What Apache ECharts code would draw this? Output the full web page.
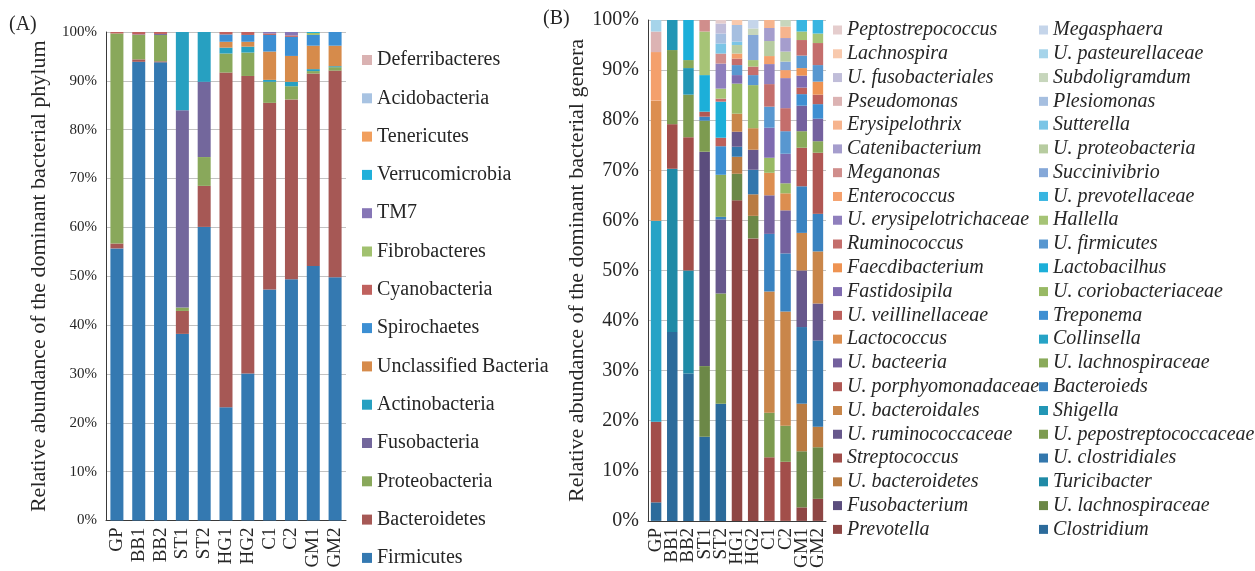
<!DOCTYPE html>
<html>
<head>
<meta charset="utf-8">
<script src="https://cdn.jsdelivr.net/npm/echarts@6/dist/echarts.min.js"></script>
<style>
  html, body { margin: 0; padding: 0; background: #ffffff; }
  #chart { width: 1255px; height: 571px; }
</style>
</head>
<body>
<div id="chart"></div>
<script>
// Sample groups shared by both panels
const samples = ['GP', 'BB1', 'BB2', 'ST1', 'ST2', 'HG1', 'HG2', 'C1', 'C2', 'GM1', 'GM2'];

// ---- Panel A: relative abundance (%) of bacterial phyla, stacked bottom to top ----
const phyla = ['Firmicutes', 'Bacteroidetes', 'Proteobacteria', 'Fusobacteria', 'Actinobacteria',
  'Unclassified Bacteria', 'Spirochaetes', 'Cyanobacteria', 'Fibrobacteres', 'TM7',
  'Verrucomicrobia', 'Tenericutes', 'Acidobacteria', 'Deferribacteres'];
const firmicutes      = [55.7, 93.9, 93.8, 38.2, 60.1, 23.2, 30.1, 47.3, 49.4, 52.1, 49.8];
const bacteroidetes   = [1.0, 0.5, 0.2, 4.7, 8.4, 68.5, 60.9, 38.2, 36.8, 39.4, 42.3];
const proteobacteria  = [43.0, 5.0, 5.4, 0.7, 5.9, 3.9, 4.8, 4.3, 2.7, 0.5, 0.7];
const fusobacteria    = [0, 0.1, 0.2, 40.4, 15.4, 0, 0, 0, 0, 0, 0];
const actinobacteria  = [0, 0, 0, 16.0, 10.2, 1.2, 1.2, 0.4, 0.9, 0.4, 0.2];
const unclassified    = [0, 0, 0, 0, 0, 1.2, 1.0, 5.8, 5.3, 4.8, 4.2];
const spirochaetes    = [0, 0, 0, 0, 0, 1.5, 1.4, 3.4, 3.9, 2.2, 2.8];
const cyanobacteria   = [0.3, 0.5, 0.4, 0, 0, 0.5, 0.6, 0.3, 0.3, 0, 0];
const fibrobacteres   = [0, 0, 0, 0, 0, 0, 0, 0, 0, 0.4, 0];
const tm7             = [0, 0, 0, 0, 0, 0, 0, 0.3, 0.7, 0, 0];
const verrucomicrobia = [0, 0, 0, 0, 0, 0, 0, 0, 0, 0.2, 0];
const tenericutes     = [0, 0, 0, 0, 0, 0, 0, 0, 0, 0, 0];
const acidobacteria   = [0, 0, 0, 0, 0, 0, 0, 0, 0, 0, 0];
const deferribacteres = [0, 0, 0, 0, 0, 0, 0, 0, 0, 0, 0];
const phylumValues = [firmicutes, bacteroidetes, proteobacteria, fusobacteria, actinobacteria,
  unclassified, spirochaetes, cyanobacteria, fibrobacteres, tm7, verrucomicrobia,
  tenericutes, acidobacteria, deferribacteres];

// ---- Panel B: relative abundance (%) of genera, stacked bottom to top ----
// the second "U. lachnospiraceae" entry carries a "#2" key suffix that the legend hides
const genera = ['Clostridium', 'Prevotella', 'U. lachnospiraceae', 'Fusobacterium', 'Turicibacter',
  'U. bacteroidetes', 'U. clostridiales', 'Streptococcus', 'U. pepostreptococcaceae',
  'U. ruminococcaceae', 'Shigella', 'U. bacteroidales', 'Bacteroieds', 'U. porphyomonadaceae',
  'U. lachnospiraceae #2', 'U. bacteeria', 'Collinsella', 'Lactococcus', 'Treponema',
  'U. veillinellaceae', 'U. coriobacteriaceae', 'Fastidosipila', 'Lactobacilhus', 'Faecdibacterium',
  'U. firmicutes', 'Ruminococcus', 'Hallella', 'U. erysipelotrichaceae', 'U. prevotellaceae',
  'Enterococcus', 'Succinivibrio', 'Meganonas', 'U. proteobacteria', 'Catenibacterium',
  'Sutterella', 'Erysipelothrix', 'Plesiomonas', 'Pseudomonas', 'Subdoligramdum',
  'U. fusobacteriales', 'U. pasteurellaceae', 'Lachnospira', 'Megasphaera', 'Peptostrepococcus'];

const generaGP = [['Clostridium', 3.7], ['Streptococcus', 16.1], ['Collinsella', 40.1],
  ['Lactococcus', 24.0], ['Enterococcus', 9.7], ['Pseudomonas', 4.1], ['U. pasteurellaceae', 2.3]];
const generaBB1 = [['Clostridium', 37.7], ['Turicibacter', 32.6], ['Streptococcus', 8.9],
  ['U. pepostreptococcaceae', 14.8], ['Shigella', 6.0]];
const generaBB2 = [['Clostridium', 29.4], ['Turicibacter', 20.6], ['Streptococcus', 26.6],
  ['U. pepostreptococcaceae', 8.5], ['Shigella', 5.3], ['U. lachnospiraceae #2', 1.6],
  ['Lactobacilhus', 8.0]];
const generaST1 = [['Clostridium', 16.8], ['U. lachnospiraceae', 14.1], ['Fusobacterium', 42.8],
  ['U. pepostreptococcaceae', 6.2], ['Bacteroieds', 0.8], ['U. porphyomonadaceae', 1.0],
  ['Lactobacilhus', 7.3], ['Hallella', 8.7], ['Meganonas', 2.3]];
const generaST2 = [['Clostridium', 23.4], ['U. pepostreptococcaceae', 22.0],
  ['U. ruminococcaceae', 14.8], ['Bacteroieds', 0.5], ['U. lachnospiraceae #2', 8.4],
  ['Treponema', 5.7], ['U. veillinellaceae', 1.7], ['Lactobacilhus', 7.2], ['Ruminococcus', 0.6],
  ['Hallella', 2.0], ['U. erysipelotrichaceae', 5.0], ['Meganonas', 2.0], ['Sutterella', 2.0],
  ['Plesiomonas', 2.0], ['U. fusobacteriales', 2.0], ['Peptostrepococcus', 0.7]];
const generaHG1 = [['Prevotella', 64.0], ['U. lachnospiraceae', 5.3], ['U. bacteroidetes', 3.4],
  ['U. clostridiales', 2.0], ['U. ruminococcaceae', 3.0], ['U. bacteroidales', 3.6],
  ['U. coriobacteriaceae', 6.0], ['Fastidosipila', 1.7], ['U. firmicutes', 2.0],
  ['Ruminococcus', 1.3], ['Enterococcus', 1.0], ['U. proteobacteria', 1.7], ['Sutterella', 0.7],
  ['Plesiomonas', 3.3], ['Lachnospira', 1.0]];
const generaHG2 = [['Prevotella', 56.4], ['U. lachnospiraceae', 4.5], ['U. bacteroidetes', 4.3],
  ['U. clostridiales', 4.9], ['U. ruminococcaceae', 4.0], ['U. bacteroidales', 4.3],
  ['U. coriobacteriaceae', 8.6], ['U. firmicutes', 2.0], ['Ruminococcus', 1.7], ['Hallella', 1.3],
  ['Succinivibrio', 5.0], ['Subdoligramdum', 1.3], ['Megasphaera', 1.7]];
const generaC1 = [['Streptococcus', 12.7], ['U. pepostreptococcaceae', 8.9],
  ['U. bacteroidales', 24.2], ['Bacteroieds', 11.5], ['U. bacteeria', 7.7], ['Lactococcus', 4.5],
  ['U. coriobacteriaceae', 3.0], ['Fastidosipila', 6.0], ['U. firmicutes', 4.2],
  ['Ruminococcus', 4.5], ['U. erysipelotrichaceae', 4.0], ['Enterococcus', 1.6],
  ['U. proteobacteria', 3.0], ['Catenibacterium', 2.6], ['Erysipelothrix', 1.6]];
const generaC2 = [['Streptococcus', 11.8], ['U. pepostreptococcaceae', 7.2],
  ['U. bacteroidales', 22.8], ['Bacteroieds', 11.6], ['U. bacteeria', 8.6], ['Lactococcus', 3.4],
  ['U. coriobacteriaceae', 2.0], ['Fastidosipila', 5.9], ['U. firmicutes', 4.5],
  ['Ruminococcus', 4.6], ['U. erysipelotrichaceae', 6.0], ['Enterococcus', 1.6],
  ['Succinivibrio', 1.7], ['U. proteobacteria', 2.0], ['Catenibacterium', 2.7],
  ['Erysipelothrix', 2.3], ['Subdoligramdum', 1.3]];
const generaGM1 = [['Prevotella', 2.7], ['U. lachnospiraceae', 11.2], ['U. bacteroidetes', 9.5],
  ['U. clostridiales', 15.3], ['U. ruminococcaceae', 11.3], ['U. bacteroidales', 7.5],
  ['Bacteroieds', 9.3], ['U. porphyomonadaceae', 7.7], ['U. lachnospiraceae #2', 3.3],
  ['U. bacteeria', 5.1], ['Treponema', 2.3], ['U. veillinellaceae', 1.3], ['Fastidosipila', 2.4],
  ['Faecdibacterium', 1.5], ['U. firmicutes', 2.5], ['Ruminococcus', 3.1], ['Hallella', 1.7],
  ['U. prevotellaceae', 2.3]];
const generaGM2 = [['Prevotella', 4.4], ['U. lachnospiraceae', 10.3], ['U. bacteroidetes', 4.1],
  ['U. clostridiales', 17.2], ['U. ruminococcaceae', 7.4], ['U. bacteroidales', 10.4],
  ['Bacteroieds', 7.5], ['U. porphyomonadaceae', 12.2], ['U. lachnospiraceae #2', 2.3],
  ['U. bacteeria', 4.5], ['Treponema', 2.9], ['U. veillinellaceae', 1.9], ['Faecdibacterium', 2.6],
  ['U. firmicutes', 3.3], ['Ruminococcus', 4.4], ['Hallella', 1.9], ['U. prevotellaceae', 2.7]];
const generaBySample = [generaGP, generaBB1, generaBB2, generaST1, generaST2, generaHG1,
  generaHG2, generaC1, generaC2, generaGM1, generaGM2];

// ---- Colours ----
const phylumColors = ['#3479b1', '#a65855', '#89a85b', '#73679c', '#27a0c1', '#d68b4b',
  '#3c8fd3', '#c0615e', '#a1c16f', '#8676b6', '#20b0da', '#f19f5d', '#a8c3e2', '#dab2b2'];
const genusColors = [
  '#2c6b9b', '#8e4644', '#6c8847', '#5b4d7d', '#1f8aa6', '#b97b42',
  '#3377ad', '#a24e4a', '#7d9b50', '#67588c', '#2296b5', '#c9864a',
  '#3a83c0', '#b05753', '#8aaa5a', '#74619e', '#26a3c6', '#dc8e50',
  '#3e8fd2', '#bd605c', '#98b964', '#7f6bb0', '#1cafd9', '#ee9352',
  '#5897d0', '#c46e6c', '#a6c476', '#8f7fbd', '#38b5e1', '#f4a06c',
  '#85a8d8', '#d08e8c', '#b7cca0', '#a59dcd', '#7bc5e6', '#f6b48e',
  '#a6bfe0', '#dcb3b3', '#c7d6bc', '#c0bdd9', '#a6d4ea', '#f8c9ad',
  '#c5d5ea', '#e5cdcd'];

const serif = "'Liberation Serif', 'Times New Roman', serif";
const textColor = '#262626';
const gridColor = '#c2c2c2';
const axisColor = '#3a3a3a';

function displayName(name) { return name.replace(/ #\d+$/, ''); }

const phylumSeries = phyla.map((name, i) => ({
  name: name,
  type: 'bar',
  stack: 'phylum',
  xAxisIndex: 0,
  yAxisIndex: 0,
  barWidth: 13,
  data: phylumValues[i],
  itemStyle: { color: phylumColors[i] }
}));

const genusSeries = genera.map((name, gi) => ({
  name: name,
  type: 'bar',
  stack: 'genus',
  xAxisIndex: 1,
  yAxisIndex: 1,
  barWidth: 10.5,
  data: generaBySample.map(list => {
    const hit = list.find(entry => entry[0] === name);
    return hit ? hit[1] : 0;
  }),
  itemStyle: { color: genusColors[gi] }
}));

// legend columns of panel B, top row first (left: even-numbered genera, right: odd-numbered)
const leftColumn = [];
const rightColumn = [];
for (let i = genera.length - 1; i >= 1; i -= 2) {
  leftColumn.push(genera[i]);
  rightColumn.push(genera[i - 1]);
}

function categoryAxis(gridIndex) {
  return {
    gridIndex: gridIndex,
    type: 'category',
    data: samples,
    axisTick: { show: false },
    axisLine: { lineStyle: { color: axisColor, width: 1 } },
    axisLabel: { rotate: 90, interval: 0, margin: 7, fontFamily: serif, fontSize: 19, color: textColor }
  };
}

function percentAxis(gridIndex, title, labelSize) {
  return {
    gridIndex: gridIndex,
    type: 'value',
    min: 0,
    max: 100,
    interval: 10,
    axisLine: { show: true, lineStyle: { color: axisColor, width: 1 } },
    axisTick: { show: false },
    splitLine: { lineStyle: { color: gridColor, width: 1 } },
    axisLabel: { formatter: '{value}%', margin: 9, fontFamily: serif, fontSize: labelSize, color: textColor },
    name: title,
    nameLocation: 'middle',
    nameGap: 56,
    nameTextStyle: { fontFamily: serif, fontSize: 22, color: textColor }
  };
}

const legendText = { fontFamily: serif, fontSize: 20, color: textColor, lineHeight: 20 };
const legendTextItalic = Object.assign({}, legendText, { fontStyle: 'italic' });

const option = {
  backgroundColor: '#ffffff',
  animation: false,
  title: [
    { text: '(A)', left: 9, top: 15, padding: 0, textStyle: { fontFamily: serif, fontSize: 20, fontWeight: 'normal', color: textColor } },
    { text: '(B)', left: 543, top: 9, padding: 0, textStyle: { fontFamily: serif, fontSize: 20, fontWeight: 'normal', color: textColor } }
  ],
  grid: [
    { left: 106, top: 32, width: 240, height: 488.5 },
    { left: 648, top: 20, width: 178, height: 502 }
  ],
  xAxis: [categoryAxis(0), categoryAxis(1)],
  yAxis: [
    percentAxis(0, 'Relative abundance of the dominant bacterial phylum', 15),
    percentAxis(1, 'Relative abundance of the dominant bacterial genera', 20)
  ],
  legend: [
    {
      orient: 'vertical', left: 362, top: 50, padding: 0, icon: 'rect', itemWidth: 10, itemHeight: 10,
      itemGap: 18.3, selectedMode: false, data: phyla.slice().reverse(), textStyle: legendText
    },
    {
      orient: 'vertical', left: 833, top: 20, padding: 0, icon: 'rect', itemWidth: 9, itemHeight: 9,
      itemGap: 3.78, selectedMode: false, data: leftColumn, formatter: displayName,
      textStyle: legendTextItalic
    },
    {
      orient: 'vertical', left: 1039, top: 20, padding: 0, icon: 'rect', itemWidth: 9, itemHeight: 9,
      itemGap: 3.78, selectedMode: false, data: rightColumn, formatter: displayName,
      textStyle: legendTextItalic
    }
  ],
  series: phylumSeries.concat(genusSeries)
};

echarts.init(document.getElementById('chart'), null, { renderer: 'canvas' }).setOption(option);
</script>
</body>
</html>
